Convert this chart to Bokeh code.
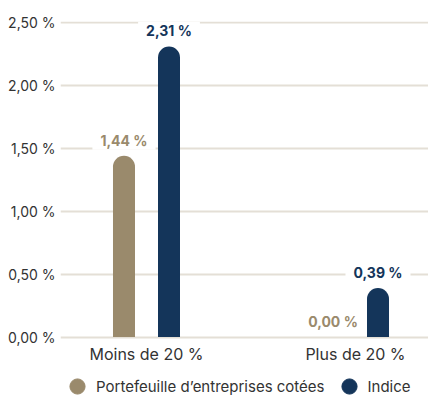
from bokeh.plotting import figure
from bokeh.models import (ColumnDataSource, Range1d, FixedTicker, Legend, LegendItem)
from bokeh.transform import dodge
from bokeh.core.properties import value
from bokeh.embed import file_html
from bokeh.resources import INLINE

categories = ["Moins de 20 %", "Plus de 20 %"]
series_names = ["Portefeuille d\u2019entreprises cotées", "Indice"]
portefeuille = [1.44, 0.00]
indice = [2.31, 0.39]
y_ticks = [0.0, 0.5, 1.0, 1.5, 2.0, 2.5]
y_tick_labels = ["0,00 %", "0,50 %", "1,00 %", "1,50 %", "2,00 %", "2,50 %"]
colors = ["#9a8a6c", "#14355a"]

FONT = "Inter"

def fmt(v):
    return f"{v:.2f}".replace(".", ",") + " %"

src = ColumnDataSource(dict(
    x=list(range(len(categories))),
    p=portefeuille,
    i=indice,
    pl=[fmt(v) for v in portefeuille],
    il=[fmt(v) for v in indice],
))

p = figure(width=428, height=395, frame_width=368, frame_height=374,
           output_backend="svg", toolbar_location=None,
           x_range=Range1d(-0.4115, 1.3493), y_range=Range1d(-0.465, 2.508),
           min_border_left=60, min_border_right=0, min_border_top=21, min_border_bottom=0)
p.outline_line_color = None
p.background_fill_color = "white"

off = 0.1077
bw = 0.1053
p.vbar(x=dodge("x", -off), top="p", width=bw, source=src, fill_color=colors[0],
       line_color=None, border_radius=(11, 11, 0, 0))
p.vbar(x=dodge("x", off), top="i", width=bw, source=src, fill_color=colors[1],
       line_color=None, border_radius=(11, 11, 0, 0))

p.text(x=dodge("x", -off), y="p", text="pl", source=src, y_offset=-6,
       text_align="center", text_baseline="bottom", text_color=colors[0],
       text_font=value(FONT), text_font_size="14px", text_font_style="bold",
       background_fill_color="white", padding=(8, 1))
p.text(x=dodge("x", off), y="i", text="il", source=src, y_offset=-6,
       text_align="center", text_baseline="bottom", text_color=colors[1],
       text_font=value(FONT), text_font_size="14px", text_font_style="bold",
       background_fill_color="white", padding=(8, 1))

# axes
p.xaxis.fixed_location = 0
p.xaxis.ticker = FixedTicker(ticks=list(range(len(categories))))
p.xaxis.major_label_overrides = {i: c for i, c in enumerate(categories)}
p.yaxis.ticker = FixedTicker(ticks=y_ticks)
p.yaxis.major_label_overrides = {t: l for t, l in zip(y_ticks, y_tick_labels)}
for ax in (p.xaxis, p.yaxis):
    ax.axis_line_color = None
    ax.major_tick_line_color = None
    ax.minor_tick_line_color = None
    ax.major_tick_out = 0
    ax.major_tick_in = 0
    ax.minor_tick_out = 0
    ax.minor_tick_in = 0
    ax.major_label_text_font = FONT
    ax.major_label_text_color = "#333333"
p.xaxis.major_label_text_font_size = "16px"
p.yaxis.major_label_text_font_size = "14px"
p.xaxis.major_label_standoff = 7
p.yaxis.major_label_standoff = 5

p.xgrid.grid_line_color = None
p.ygrid.ticker = FixedTicker(ticks=y_ticks)
p.ygrid.grid_line_color = "#e4dfd6"
p.ygrid.grid_line_width = 2

# legend
r1 = p.scatter(x=[0], y=[-10], marker="circle", color=colors[0])
r2 = p.scatter(x=[0], y=[-10], marker="circle", color=colors[1])
legend = Legend(items=[LegendItem(label=series_names[0], renderers=[r1]),
                       LegendItem(label=series_names[1], renderers=[r2])],
                orientation="horizontal", location=(-2, -10),
                label_text_font=FONT, label_text_font_size="15px",
                label_text_color="#333333", glyph_width=38, glyph_height=38,
                label_standoff=0, spacing=5, padding=0, margin=0,
                border_line_color=None, background_fill_alpha=0)
p.add_layout(legend, "center")

open("out.html", "w").write(file_html(p, INLINE))
